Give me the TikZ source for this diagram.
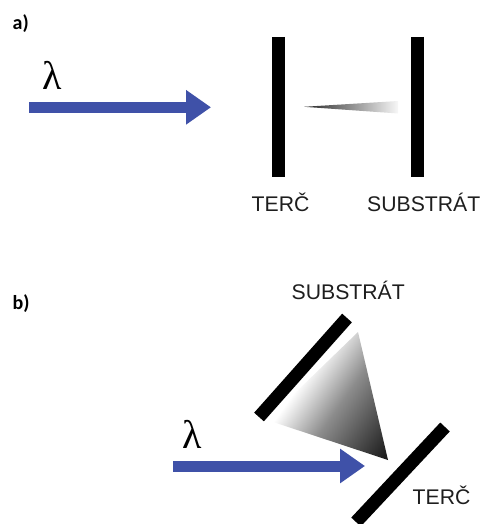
\documentclass[tikz,border=0pt]{standalone}
\usepackage{fontspec}
\setmainfont{Liberation Sans}
\newfontfamily\lamfont{Liberation Serif}
\newfontfamily\panelfont{Carlito}
\usetikzlibrary{arrows.meta}
\definecolor{beam}{RGB}{63,81,168}
\definecolor{txt}{RGB}{30,30,30}
\pgfdeclareverticalshading{plumeb}{100bp}{color(0bp)=(black); color(15bp)=(black!92); color(44bp)=(black!45); color(62bp)=(white); color(100bp)=(white)}
\tikzset{
  barline/.style={line width=13bp, black},
  beamarrow/.style={beam, line width=11bp, -{Triangle[length=25bp, width=33bp]}},
  lbl/.style={anchor=base west, inner sep=0pt, text=txt, font=\fontsize{21.2bp}{21.2bp}\selectfont},
  lam/.style={anchor=base west, inner sep=0pt, font=\lamfont\fontsize{40bp}{40bp}\selectfont},
  panel/.style={anchor=base west, inner sep=0pt, font=\panelfont\bfseries\fontsize{20bp}{20bp}\selectfont},
}
\begin{document}
\begin{tikzpicture}[x=1bp,y=-1bp]
\useasboundingbox (0,0) rectangle (482,524);
% ---------- panel a
\node[panel] (pa) at (12.5,30) {a)};
\node[lam] (lama) at (42,90) {λ};
\coordinate (ba0) at (29,107.3);
\coordinate (ba1) at (211,107.3);
\draw[beamarrow] (ba0) -- (ba1);
\coordinate (ta0) at (278.5,37);
\coordinate (ta1) at (278.5,177);
\draw[barline] (ta0) -- (ta1);
\coordinate (sa0) at (417.5,37);
\coordinate (sa1) at (417.5,177);
\draw[barline] (sa0) -- (sa1);
\coordinate (pl0) at (304,106.8);
\coordinate (pl1) at (398,101);
\coordinate (pl2) at (398,113.5);
\shade[left color=black!85, right color=black!3] (pl0) -- (pl1) -- (pl2) -- cycle;
\node[lbl] (terca) at (251.5,211) {TERČ};
\node[lbl] (suba) at (367,211) {SUBSTRÁT};
% ---------- panel b
\node[panel] (pb) at (12.5,309) {b)};
\node[lam] (lamb) at (182,448) {λ};
\coordinate (sb0) at (259,417);
\coordinate (sb1) at (347,318);
\draw[barline] (sb0) -- (sb1);
\coordinate (tb0) at (356,522);
\coordinate (tb1) at (445,427);
\draw[barline] (tb0) -- (tb1);
\coordinate (pv1) at (358,332);
\coordinate (pv2) at (267,420);
\coordinate (pv3) at (388,460);
\shade[shading=plumeb, shading angle=55] (pv1) -- (pv2) -- (pv3) -- cycle;
\coordinate (bb0) at (173,466);
\coordinate (bb1) at (365,466);
\draw[beamarrow] (bb0) -- (bb1);
\node[lbl] (subb) at (291.5,299) {SUBSTRÁT};
\node[lbl] (tercb) at (412.5,504) {TERČ};
\end{tikzpicture}
\end{document}
